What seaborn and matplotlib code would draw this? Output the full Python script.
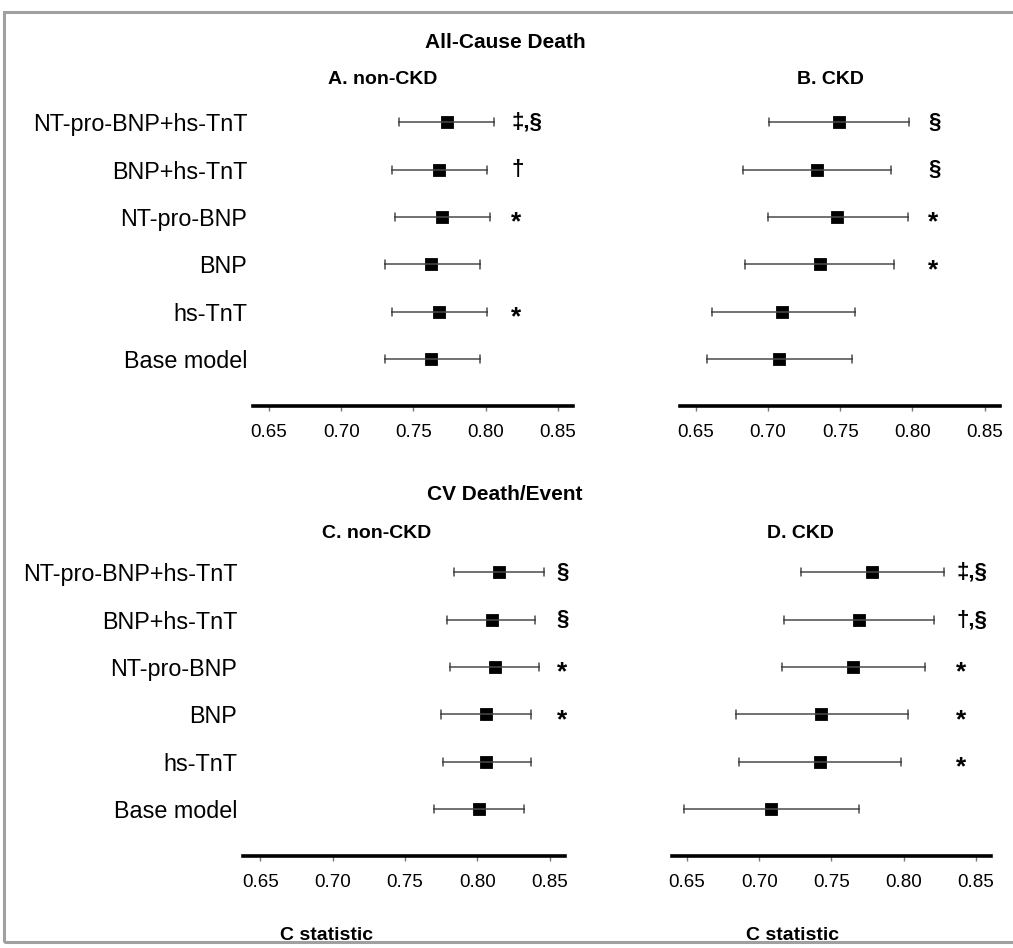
import pandas as pd
import matplotlib
matplotlib.use("Agg")
import matplotlib.pyplot as plt
import seaborn as sns
from matplotlib.patches import Rectangle

sns.set_style("white")
plt.rcParams['font.family'] = ['Liberation Sans', 'DejaVu Sans']
plt.rcParams['text.color'] = 'black'
plt.rcParams['xtick.color'] = 'black'
plt.rcParams['ytick.color'] = 'black'

models = ['NT-pro-BNP+hs-TnT', 'BNP+hs-TnT', 'NT-pro-BNP', 'BNP', 'hs-TnT', 'Base model']
xticks = [0.65, 0.70, 0.75, 0.80, 0.85]

# C statistic (point, lower, upper) per model
a_mid = [0.773, 0.768, 0.770, 0.762, 0.768, 0.762]
a_lo = [0.740, 0.735, 0.737, 0.730, 0.735, 0.730]
a_hi = [0.806, 0.801, 0.803, 0.796, 0.801, 0.796]
a_sig = ['\u2021,\u00a7', '\u2020', '*', '', '*', '']

b_mid = [0.749, 0.734, 0.748, 0.736, 0.710, 0.708]
b_lo = [0.701, 0.683, 0.700, 0.684, 0.661, 0.658]
b_hi = [0.798, 0.785, 0.797, 0.787, 0.760, 0.758]
b_sig = ['\u00a7', '\u00a7', '*', '*', '', '']

c_mid = [0.815, 0.810, 0.812, 0.806, 0.806, 0.801]
c_lo = [0.784, 0.779, 0.781, 0.775, 0.776, 0.770]
c_hi = [0.846, 0.840, 0.843, 0.837, 0.837, 0.832]
c_sig = ['\u00a7', '\u00a7', '*', '*', '', '']

d_mid = [0.778, 0.769, 0.765, 0.743, 0.742, 0.708]
d_lo = [0.729, 0.717, 0.716, 0.684, 0.686, 0.648]
d_hi = [0.828, 0.821, 0.815, 0.803, 0.798, 0.769]
d_sig = ['\u2021,\u00a7', '\u2020,\u00a7', '*', '*', '*', '']

W, H = 1013, 948
fig = plt.figure(figsize=(W / 100, H / 100), dpi=100)

# gray frame round the figure
fig.patches.append(Rectangle((4 / W, 6 / H), 1.2, 1 - 18 / H, transform=fig.transFigure,
                             fill=False, edgecolor='#a0a0a0', linewidth=2.2))


def long_df(lo, mid, hi):
    rows = []
    for m, l, c, h in zip(models, lo, mid, hi):
        for v in (l, c, h):
            rows.append({'model': m, 'C': v})
    return pd.DataFrame(rows)


panels = [
    # left px, axis line px, width px, xlim, data, symbols, symbol x, show labels
    (253, 406, 320, (0.6389, 0.8605), (a_lo, a_mid, a_hi), a_sig, 0.8176, True),
    (680, 406, 320, (0.6391, 0.8607), (b_lo, b_mid, b_hi), b_sig, 0.8109, False),
    (243, 856, 322, (0.6380, 0.8607), (c_lo, c_mid, c_hi), c_sig, 0.8550, True),
    (672, 856, 319, (0.6396, 0.8606), (d_lo, d_mid, d_hi), d_sig, 0.8364, False),
]

for left, base, width, xlim, (lo, mid, hi), sig, sx, show in panels:
    height = 306
    ax = fig.add_axes([left / W, 1 - base / H, width / W, height / H])
    df = long_df(lo, mid, hi)
    sns.pointplot(data=df, x='C', y='model', order=models, estimator='median',
                  errorbar=('pi', 100), linestyle='none', marker='s', markersize=6.5,
                  color='black', capsize=0.17,
                  err_kws={'color': '#4a4a4a', 'linewidth': 1.1}, ax=ax)
    ax.set_xlim(*xlim)
    ax.set_ylim(5.985, -0.47)
    ax.set_xticks(xticks)
    ax.set_xticklabels([f'{t:.2f}' for t in xticks])
    ax.set_xlabel('')
    ax.set_ylabel('')
    for s in ['top', 'right', 'left']:
        ax.spines[s].set_visible(False)
    ax.spines['bottom'].set_linewidth(2.6)
    ax.spines['bottom'].set_color('black')
    ax.tick_params(axis='x', bottom=True, direction='out', length=3.5, width=1,
                   color='#777777', labelsize=13.5, pad=9.5)
    ax.tick_params(axis='y', left=False, length=0, labelsize=16.8, pad=4.2,
                   labelleft=show)
    for i, s in enumerate(sig):
        if s == '*':
            ax.text(sx, i + 0.12, s, ha='left', va='center', fontsize=19,
                    fontweight='bold', clip_on=False)
        elif s:
            ax.text(sx, i, s, ha='left', va='center', fontsize=16,
                    fontweight='bold', clip_on=False)

fig.text(505 / W, 1 - 42 / H, 'All-Cause Death', ha='center', va='center',
         fontsize=15, fontweight='bold')
fig.text(383 / W, 1 - 80 / H, 'A. non-CKD', ha='center', va='center',
         fontsize=14, fontweight='bold')
fig.text(830 / W, 1 - 80 / H, 'B. CKD', ha='center', va='center',
         fontsize=14, fontweight='bold')
fig.text(505 / W, 1 - 495 / H, 'CV Death/Event', ha='center', va='center',
         fontsize=15, fontweight='bold')
fig.text(377 / W, 1 - 533 / H, 'C. non-CKD', ha='center', va='center',
         fontsize=14, fontweight='bold')
fig.text(800 / W, 1 - 533 / H, 'D. CKD', ha='center', va='center',
         fontsize=14, fontweight='bold')
fig.text(327 / W, 1 - 935 / H, 'C statistic', ha='center', va='center',
         fontsize=14, fontweight='bold')
fig.text(793 / W, 1 - 935 / H, 'C statistic', ha='center', va='center',
         fontsize=14, fontweight='bold')

fig.savefig('out.png', dpi=100)
